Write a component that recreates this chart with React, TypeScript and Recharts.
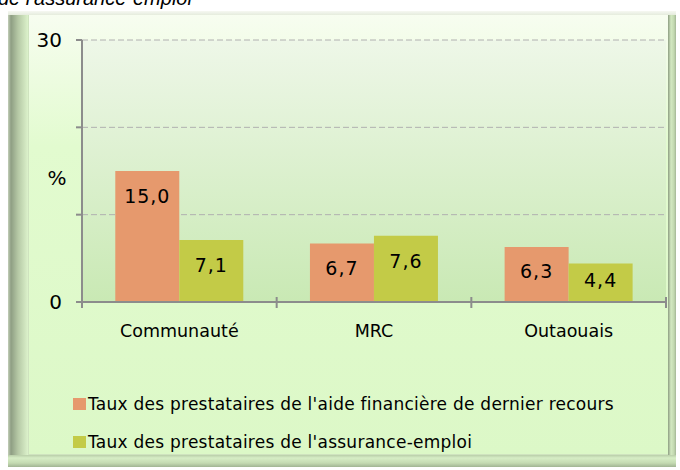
import React from 'react';
import { BarChart, Bar, XAxis, YAxis, CartesianGrid, Legend, LabelList } from 'recharts';

const categories = ['Communauté', 'MRC', 'Outaouais'];
const aideFinanciere = [15.0, 6.7, 6.3];
const assuranceEmploi = [7.1, 7.6, 4.4];
const yTicks = [0, 10, 20, 30];
const yTickLabels = ['0', '', '', '30'];
const seriesNames = [
  "Taux des prestataires de l'aide financière de dernier recours",
  "Taux des prestataires de l'assurance-emploi",
];
const seriesColors = ['#E6996D', '#C3CB47'];

const data = categories.map((c, i) => ({
  name: c,
  aide: aideFinanciere[i],
  ae: assuranceEmploi[i],
}));

const FONT = '"DejaVu Sans", sans-serif';
const AXIS = '#8C8C8C';

const fmt = (v: number) => v.toFixed(1).replace('.', ',');

const BarLabel = (props: any) => {
  const { x, y, width, height, value } = props;
  const cy = y + Math.min(25, height / 2 - 3);
  return (
    <text
      x={x + width / 2}
      y={cy}
      textAnchor="middle"
      dominantBaseline="central"
      fontFamily={FONT}
      fontSize={19}
      letterSpacing={1}
      fill="#000"
    >
      {fmt(value)}
    </text>
  );
};

const CategoryTick = (props: any) => {
  const { x, y, payload, width, visibleTicksCount, index } = props;
  let half = payload && typeof payload.offset === 'number' && payload.offset > 0 ? payload.offset : 0;
  if (!half && width && visibleTicksCount) half = width / visibleTicksCount / 2;
  const isLast = index === (visibleTicksCount || categories.length) - 1;
  return (
    <g>
      {half ? <line x1={x - half} x2={x - half} y1={y - 5} y2={y + 6} stroke={AXIS} strokeWidth={2} /> : null}
      {half && isLast ? <line x1={x + half} x2={x + half} y1={y - 5} y2={y + 6} stroke={AXIS} strokeWidth={2} /> : null}
      <text x={x} y={y + 23} dy="0.71em" textAnchor="middle" fontFamily={FONT} fontSize={17.5} fill="#000">
        {payload.value}
      </text>
    </g>
  );
};

const LegendContent = () => (
  <div style={{ height: 76, fontFamily: FONT, fontSize: 17, letterSpacing: 0.25, color: '#000' }}>
    {seriesNames.map((n, i) => (
      <div key={n} style={{ height: 38, display: 'flex', alignItems: 'center', paddingLeft: 73 }}>
        <span style={{ display: 'inline-block', width: 13, height: 12, background: seriesColors[i], marginRight: 2 }} />
        <span style={{ whiteSpace: 'nowrap' }}>{n}</span>
      </div>
    ))}
  </div>
);

const PercentLabel = (props: any) => {
  const vb = props.viewBox;
  return (
    <text
      x={vb.x + vb.width - 25}
      y={vb.y + vb.height * 0.525}
      textAnchor="middle"
      dominantBaseline="central"
      fontFamily={FONT}
      fontSize={20}
      fill="#000"
    >
      %
    </text>
  );
};

export default function App() {
  return (
    <div style={{ position: 'absolute', left: 0, top: 0, width: 680, height: 470, overflow: 'hidden', background: '#fff' }}>
      <div
        style={{
          position: 'absolute',
          left: -2,
          top: -12,
          fontFamily: '"Liberation Sans", Arial, sans-serif',
          fontStyle: 'italic',
          fontSize: 20,
          lineHeight: '20px',
          color: '#000',
          whiteSpace: 'nowrap',
        }}
      >
        de l'assurance-emploi
      </div>
      {/* frame */}
      <div style={{ position: 'absolute', left: 8, top: 11, width: 668, height: 456, background: '#c2d7b1' }} />
      <div style={{ position: 'absolute', left: 8, top: 11, width: 20, height: 456, background: 'linear-gradient(to right, #c4d0ba, #8e9e83 3px, #b5c8a5 10px, #dcf2cb 20px)' }} />
      <div style={{ position: 'absolute', left: 668, top: 11, width: 8, height: 456, background: 'linear-gradient(to right, #8d9d82, #d3e9c2 3px, #c2d8b0 6px, #a3b696)' }} />
      <div style={{ position: 'absolute', left: 8, top: 455, width: 668, height: 12, background: 'linear-gradient(to bottom, #b9cea9, #d6edc5 3px, #c4dbb2 8px, #a1b594)' }} />
      <div style={{ position: 'absolute', left: 8, top: 11, width: 668, height: 4, background: 'linear-gradient(to bottom, #f6f8f2, #e5ecdd)' }} />
      <div style={{ position: 'absolute', left: 28, top: 15, width: 640, height: 440, background: 'linear-gradient(to bottom, #f7fdf0, #e2fbcf 30%, #dcf8c7)', boxShadow: 'inset 1px -1px 0 #cfe3bf' }} />
      <div style={{ position: 'absolute', left: 0, top: 0 }}>
        <BarChart
          width={680}
          height={470}
          data={data}
          margin={{ top: 40, right: 14, left: 0, bottom: 62 }}
          barCategoryGap="17.1%"
          barGap={0}
        >
          <defs>
            <linearGradient id="plotGrad" x1="0" y1="0" x2="0" y2="1">
              <stop offset="0%" stopColor="#EEF7E8" />
              <stop offset="100%" stopColor="#C9E9B4" />
            </linearGradient>
          </defs>
          <CartesianGrid vertical={false} stroke="#B0B0B0" strokeDasharray="6 3" fill="url(#plotGrad)" fillOpacity={1} />
          <XAxis
            dataKey="name"
            axisLine={{ stroke: AXIS, strokeWidth: 2 }}
            tickLine={false}
            tickSize={0}
            tickMargin={0}
            height={30}
            tick={<CategoryTick />}
            interval={0}
          />
          <YAxis
            width={82}
            domain={[0, 30]}
            ticks={yTicks}
            interval={0}
            tickFormatter={(v: number) => yTickLabels[yTicks.indexOf(v)]}
            axisLine={{ stroke: AXIS, strokeWidth: 2 }}
            tickLine={{ stroke: AXIS, strokeWidth: 2 }}
            tickSize={6}
            tickMargin={14}
            tick={{ fontFamily: FONT, fontSize: 20, fill: '#000' }}
            label={<PercentLabel />}
          />
          <Legend
            verticalAlign="bottom"
            content={<LegendContent />}
            wrapperStyle={{ left: 0, top: 385, bottom: 'auto', width: 680 }}
          />
          <Bar dataKey="aide" name={seriesNames[0]} fill={seriesColors[0]} isAnimationActive={false}>
            <LabelList dataKey="aide" content={<BarLabel />} />
          </Bar>
          <Bar dataKey="ae" name={seriesNames[1]} fill={seriesColors[1]} isAnimationActive={false}>
            <LabelList dataKey="ae" content={<BarLabel />} />
          </Bar>
        </BarChart>
      </div>
    </div>
  );
}
